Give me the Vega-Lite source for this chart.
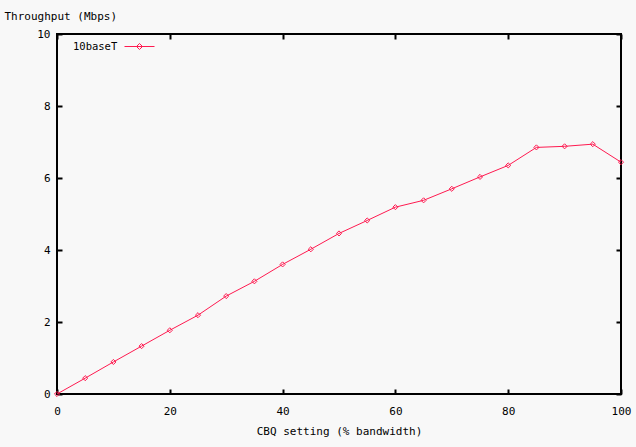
{
  "$schema": "https://vega.github.io/schema/vega-lite/v6.json",
  "width": 564,
  "height": 360,
  "autosize": {"type": "none"},
  "padding": {"left": 57, "top": 34, "right": 15, "bottom": 53},
  "background": "#f8f8f8",
  "config": {
    "font": "DejaVu Sans Mono",
    "view": {"stroke": "black", "strokeWidth": 2},
    "axis": {
      "domain": false,
      "grid": false,
      "tickColor": "black",
      "tickWidth": 2,
      "tickSize": -5,
      "labelFlush": false,
      "labelFont": "DejaVu Sans Mono",
      "labelFontSize": 11,
      "labelColor": "black",
      "titleFont": "DejaVu Sans Mono",
      "titleFontSize": 11,
      "titleFontWeight": "normal",
      "titleColor": "black"
    },
    "legend": {
      "labelFont": "DejaVu Sans Mono",
      "titleFont": "DejaVu Sans Mono"
    }
  },
  "data": {
    "values": [
      {"x": 0, "y": 0, "series": "10baseT"},
      {"x": 5, "y": 0.44, "series": "10baseT"},
      {"x": 10, "y": 0.89, "series": "10baseT"},
      {"x": 15, "y": 1.33, "series": "10baseT"},
      {"x": 20, "y": 1.77, "series": "10baseT"},
      {"x": 25, "y": 2.19, "series": "10baseT"},
      {"x": 30, "y": 2.72, "series": "10baseT"},
      {"x": 35, "y": 3.13, "series": "10baseT"},
      {"x": 40, "y": 3.6, "series": "10baseT"},
      {"x": 45, "y": 4.02, "series": "10baseT"},
      {"x": 50, "y": 4.46, "series": "10baseT"},
      {"x": 55, "y": 4.82, "series": "10baseT"},
      {"x": 60, "y": 5.19, "series": "10baseT"},
      {"x": 65, "y": 5.38, "series": "10baseT"},
      {"x": 70, "y": 5.7, "series": "10baseT"},
      {"x": 75, "y": 6.03, "series": "10baseT"},
      {"x": 80, "y": 6.35, "series": "10baseT"},
      {"x": 85, "y": 6.85, "series": "10baseT"},
      {"x": 90, "y": 6.88, "series": "10baseT"},
      {"x": 95, "y": 6.94, "series": "10baseT"},
      {"x": 100, "y": 6.44, "series": "10baseT"}
    ]
  },
  "resolve": {"axis": {"x": "independent", "y": "independent"}},
  "layer": [
    {
      "mark": {"type": "line", "strokeWidth": 1, "point": {"shape": "diamond", "filled": false, "size": 26, "strokeWidth": 1}},
      "encoding": {
        "x": {"field": "x", "type": "quantitative", "scale": {"domain": [0, 100], "nice": false},
          "axis": {"orient": "bottom", "values": [0, 20, 40, 60, 80, 100], "title": "CBQ setting (% bandwidth)", "labelPadding": 16, "titlePadding": 9}},
        "y": {"field": "y", "type": "quantitative", "scale": {"domain": [0, 10], "nice": false, "zero": false},
          "axis": {"orient": "left", "values": [0, 2, 4, 6, 8, 10], "title": "Throughput (Mbps)", "labelPadding": 12, "titleAngle": 0, "titleAlign": "left", "titleBaseline": "middle", "titleX": -53, "titleY": -18}},
        "color": {"field": "series", "type": "nominal", "scale": {"range": ["#ff1a50"]},
          "legend": {"orient": "none", "legendX": 16, "legendY": 3, "title": "10baseT", "titleOrient": "left", "titleAnchor": "middle", "titleFontSize": 10.5, "titleFontWeight": "normal", "titleColor": "black", "titleBaseline": "middle", "titlePadding": 6, "labelExpr": "''", "symbolType": "M-1,-0.4H1M0,-0.6L0.2,-0.4L0,-0.2L-0.2,-0.4Z", "symbolSize": 900, "symbolStrokeWidth": 1, "symbolStrokeColor": "#ff1a50", "symbolFillColor": "transparent"}}
      }
    },
    {
      "mark": {"type": "line", "opacity": 0},
      "encoding": {
        "x": {"field": "x", "type": "quantitative", "axis": {"orient": "top", "values": [0, 20, 40, 60, 80, 100], "labels": false, "title": null}},
        "y": {"field": "y", "type": "quantitative", "axis": {"orient": "right", "values": [0, 2, 4, 6, 8, 10], "labels": false, "title": null}}
      }
    }
  ]
}
